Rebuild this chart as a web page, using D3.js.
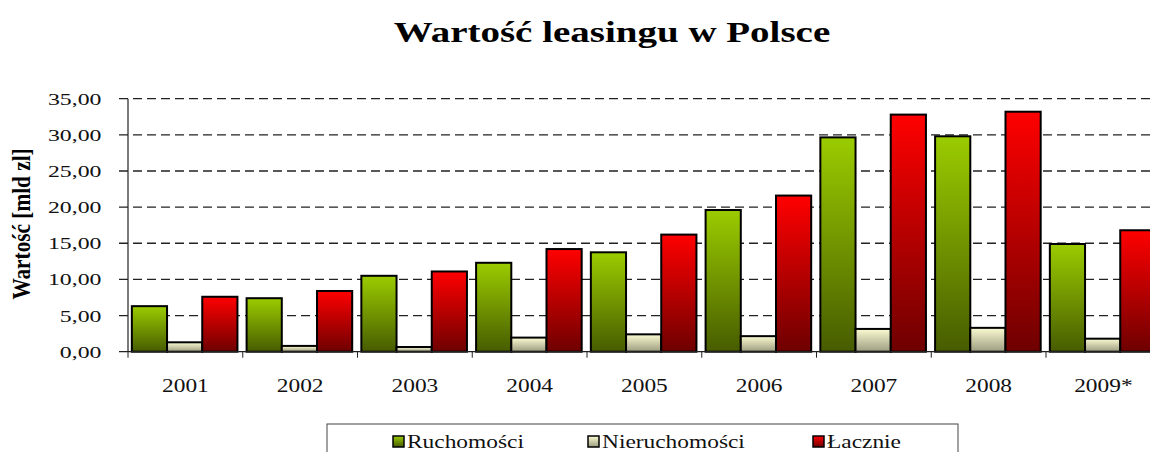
<!DOCTYPE html>
<html>
<head>
<meta charset="utf-8">
<script src="https://cdn.jsdelivr.net/npm/d3@7"></script>
<style>
    body { margin: 0; background: #fff; }
    svg { display: block; font-family: "Liberation Serif", "Times New Roman", serif; }
</style>
</head>
<body>
<svg></svg>
<script>
var width = 1150;
var height = 452;

// data (mld zl)
var years = ["2001", "2002", "2003", "2004", "2005", "2006", "2007", "2008", "2009*"];
var series_names = ["Ruchomości", "Nieruchomości", "Łacznie"];
var ruchomosci = [6.3, 7.4, 10.5, 12.3, 13.75, 19.6, 29.65, 29.8, 14.9];
var nieruchomosci = [1.3, 0.8, 0.65, 1.95, 2.4, 2.15, 3.15, 3.3, 1.8];
var lacznie = [7.6, 8.4, 11.1, 14.2, 16.2, 21.6, 32.8, 33.2, 16.8];
var y_ticks = [0, 5, 10, 15, 20, 25, 30, 35];

var series_values = [ruchomosci, nieruchomosci, lacznie];
var gradients = [
    {id: "grad-green", top: "#9bcc00", bottom: "#475c00"},
    {id: "grad-cream", top: "#fbfbd2", bottom: "#9c9c80"},
    {id: "grad-red", top: "#ff0000", bottom: "#6e0000"}
];

var margin = {left: 128, top: 98.7, bottom: 351.7};
var band_w = 114.75;

const svg = d3.select("svg")
    .attr("width", width)
    .attr("height", height);

var defs = svg.append("defs");
gradients.forEach(function(g) {
    var lg = defs.append("linearGradient")
        .attr("id", g.id)
        .attr("x1", 0).attr("y1", 0).attr("x2", 0).attr("y2", 1);
    lg.append("stop").attr("offset", "0%").attr("stop-color", g.top);
    lg.append("stop").attr("offset", "100%").attr("stop-color", g.bottom);
});

var x = d3.scaleBand()
    .domain(years)
    .range([margin.left, margin.left + band_w * years.length])
    .padding(0);

var x_sub = d3.scaleBand()
    .domain(d3.range(series_names.length))
    .range([0, x.bandwidth()])
    .paddingInner(0)
    .paddingOuter(0.13)
    .align(0.42);

var y = d3.scaleLinear()
    .domain([0, 35])
    .range([margin.bottom, margin.top]);

var fmt = function(v) { return d3.format(".2f")(v).replace(".", ","); };

// title
svg.append("g")
    .attr("transform", "translate(612,41.5) scale(1.3,1)")
    .append("text")
    .attr("text-anchor", "middle")
    .attr("font-size", 30)
    .attr("font-weight", "bold")
    .text("Wartość leasingu w Polsce");

// dashed grid lines
svg.append("g")
    .selectAll("line")
    .data(y_ticks.filter(function(d) { return d > 0; }))
    .enter().append("line")
    .attr("x1", margin.left - 9)
    .attr("x2", width)
    .attr("y1", function(d) { return y(d); })
    .attr("y2", function(d) { return y(d); })
    .attr("stroke", "#222")
    .attr("stroke-width", 1.3)
    .attr("stroke-dasharray", "9,5");

// y tick labels
svg.append("g")
    .selectAll("g")
    .data(y_ticks)
    .enter().append("g")
    .attr("transform", function(d) { return "translate(101.5," + y(d) + ") scale(1.4,1)"; })
    .append("text")
    .attr("text-anchor", "end")
    .attr("dy", "0.35em")
    .attr("font-size", 17)
    .attr("fill", "#111")
    .text(fmt);

// y axis title
svg.append("g")
    .attr("transform", "translate(30,224) rotate(-90) scale(1.12,1.32)")
    .append("text")
    .attr("text-anchor", "middle")
    .attr("font-size", 19)
    .attr("font-weight", "bold")
    .text("Wartość [mld zl]");

// bars
var groups = svg.append("g")
    .selectAll("g")
    .data(years)
    .enter().append("g")
    .attr("transform", function(d) { return "translate(" + x(d) + ",0)"; });

groups.selectAll("rect")
    .data(function(d, i) {
        return series_values.map(function(s, j) { return {series: j, value: s[i]}; });
    })
    .enter().append("rect")
    .attr("x", function(d) { return x_sub(d.series); })
    .attr("width", x_sub.bandwidth())
    .attr("y", function(d) { return y(d.value); })
    .attr("height", function(d) { return y(0) - y(d.value); })
    .attr("fill", function(d) { return "url(#" + gradients[d.series].id + ")"; })
    .attr("stroke", "#000")
    .attr("stroke-width", 2);

// axes lines
svg.append("line")
    .attr("x1", margin.left).attr("x2", margin.left)
    .attr("y1", y(35)).attr("y2", y(0))
    .attr("stroke", "#222").attr("stroke-width", 1.2);
svg.append("line")
    .attr("x1", margin.left - 9).attr("x2", width)
    .attr("y1", y(0)).attr("y2", y(0))
    .attr("stroke", "#222").attr("stroke-width", 1.2);

// category separators below the axis
svg.append("g")
    .selectAll("line")
    .data(years)
    .enter().append("line")
    .attr("x1", function(d) { return x(d); })
    .attr("x2", function(d) { return x(d); })
    .attr("y1", y(0))
    .attr("y2", y(0) + 6)
    .attr("stroke", "#222");

// x labels
svg.append("g")
    .selectAll("g")
    .data(years)
    .enter().append("g")
    .attr("transform", function(d) { return "translate(" + (x(d) + x.bandwidth() / 2) + ",391.5) scale(1.23,1)"; })
    .append("text")
    .attr("text-anchor", "middle")
    .attr("font-size", 19)
    .attr("fill", "#111")
    .text(function(d) { return d; });

// legend
var legend = svg.append("g");
legend.append("rect")
    .attr("x", 327).attr("y", 424)
    .attr("width", 631).attr("height", 60)
    .attr("fill", "#fff")
    .attr("stroke", "#444")
    .attr("stroke-width", 1);

var legend_x = [393, 588, 813];
var items = legend.selectAll("g")
    .data(series_names)
    .enter().append("g")
    .attr("transform", function(d, i) { return "translate(" + legend_x[i] + ",436)"; });

items.append("rect")
    .attr("width", 11).attr("height", 11)
    .attr("fill", function(d, i) { return "url(#" + gradients[i].id + ")"; })
    .attr("stroke", "#000")
    .attr("stroke-width", 1.5);

items.append("g")
    .attr("transform", "translate(14,12) scale(1.3,1)")
    .append("text")
    .attr("font-size", 18)
    .attr("fill", "#111")
    .text(function(d) { return d; });
</script>
</body>
</html>
